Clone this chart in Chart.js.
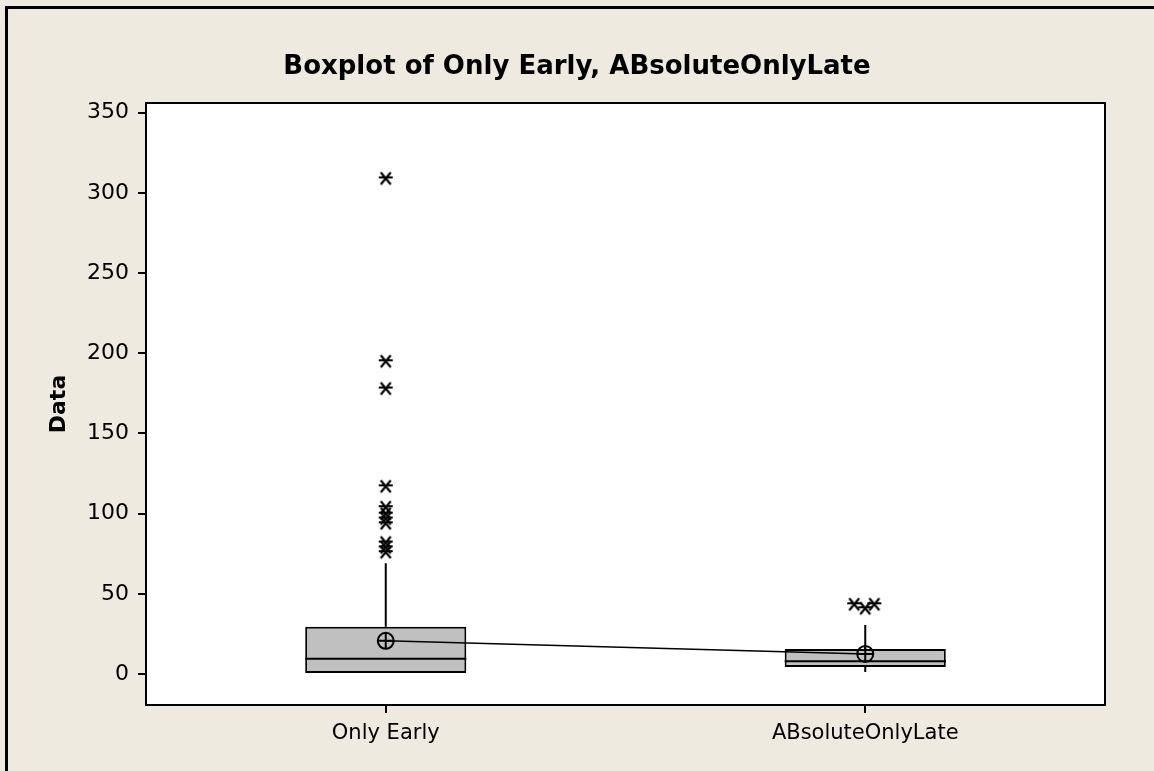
<!DOCTYPE html>
<html>
<head>
<meta charset="utf-8">
<script src="https://cdn.jsdelivr.net/npm/chart.js@4"></script>
<style>
  body { margin: 0; background: #EEEAE0; }
  #wrap { width: 1154px; height: 771px; }
</style>
</head>
<body>
<div id="wrap"><canvas id="boxChart" width="1154" height="771"></canvas></div>
<script>
// categories and summary stats
var categories = ['Only Early', 'ABsoluteOnlyLate'];
var q1Vals = [0, 4.4];
var medianVals = [9.5, 8];
var q3Vals = [29.5, 15.6];
var whiskerLow = [0, 1.2];
var whiskerHigh = [69, 30.5];
var meanVals = [20.7, 12.5];

// outliers (x = category index, small offsets where stars sit side by side)
var outliersEarly = [309, 195, 178, 117, 104, 100, 97, 94, 82, 79, 76];
var outliersLate = [{x: 0.977, y: 43.5}, {x: 1.0, y: 41}, {x: 1.019, y: 43.5}];

var yTicks = [0, 50, 100, 150, 200, 250, 300, 350];

var BOX_HALF = 0.168;

// minitab style asterisk
function makeStar() {
    var c = document.createElement('canvas');
    c.width = 16; c.height = 16;
    var g = c.getContext('2d');
    g.strokeStyle = '#000';
    g.lineWidth = 2.2;
    g.beginPath();
    g.moveTo(3, 2); g.lineTo(13, 14);
    g.moveTo(13, 2); g.lineTo(3, 14);
    g.moveTo(1, 7); g.lineTo(15, 7);
    g.stroke();
    return c;
}
var star = makeStar();

// build line data: whiskers and medians, broken with nulls
var whiskerData = [];
var medianData = [];
for (var i = 0; i < categories.length; i++) {
    whiskerData.push({x: i, y: q3Vals[i]}, {x: i, y: whiskerHigh[i]}, {x: i, y: null});
    whiskerData.push({x: i, y: q1Vals[i]}, {x: i, y: whiskerLow[i]}, {x: i, y: null});
    medianData.push({x: i - BOX_HALF, y: medianVals[i]}, {x: i + BOX_HALF, y: medianVals[i]}, {x: i, y: null});
}
var boxData = categories.map(function(c, i) { return {x: i, y: [q1Vals[i], q3Vals[i]]}; });
var meanData = meanVals.map(function(v, i) { return {x: i, y: v}; });
var outlierData = outliersEarly.map(function(v) { return {x: 0, y: v}; }).concat(outliersLate);

var framePlugin = {
    id: 'frame',
    beforeDraw: function(chart) {
        var ctx = chart.ctx;
        ctx.save();
        ctx.fillStyle = '#EEEAE0';
        ctx.fillRect(0, 0, chart.width, chart.height);
        ctx.fillStyle = '#000';
        ctx.fillRect(5, 6, chart.width - 5, 3);
        ctx.fillRect(5, 6, 3, chart.height - 6);
        var a = chart.chartArea;
        ctx.fillStyle = '#fff';
        ctx.fillRect(a.left, a.top, a.right - a.left, a.bottom - a.top);
        ctx.fillStyle = '#000';
        ctx.font = 'bold 26px "DejaVu Sans"';
        ctx.textAlign = 'center';
        ctx.textBaseline = 'alphabetic';
        ctx.fillText('Boxplot of Only Early, ABsoluteOnlyLate', chart.width / 2, 74);
        ctx.restore();
    },
    afterDraw: function(chart) {
        var a = chart.chartArea;
        var ctx = chart.ctx;
        ctx.save();
        ctx.strokeStyle = '#000';
        ctx.lineWidth = 2;
        ctx.strokeRect(a.left, a.top, a.right - a.left, a.bottom - a.top);
        ctx.restore();
    }
};

new Chart(document.getElementById('boxChart'), {
    type: 'scatter',
    data: {
        datasets: [
            {
                type: 'bar',
                data: boxData,
                backgroundColor: '#C0C0C0',
                borderColor: '#000',
                borderWidth: 2,
                borderSkipped: false,
                barPercentage: 0.336,
                categoryPercentage: 1,
                order: 10
            },
            {
                type: 'line',
                data: whiskerData,
                borderColor: '#000',
                borderWidth: 2,
                pointRadius: 0,
                spanGaps: false,
                order: 5
            },
            {
                type: 'line',
                data: medianData,
                borderColor: '#000',
                borderWidth: 2,
                pointRadius: 0,
                spanGaps: false,
                order: 4
            },
            {
                type: 'line',
                data: meanData,
                borderColor: '#000',
                borderWidth: 1.5,
                pointStyle: 'circle',
                pointRadius: 8,
                pointBackgroundColor: 'rgba(0,0,0,0)',
                pointBorderColor: '#000',
                pointBorderWidth: 2,
                order: 2
            },
            {
                data: meanData,
                showLine: false,
                pointStyle: 'cross',
                pointRadius: 8,
                pointBorderColor: '#000',
                pointBorderWidth: 2,
                order: 1
            },
            {
                data: outlierData,
                showLine: false,
                pointStyle: star,
                order: 0
            }
        ]
    },
    options: {
        responsive: false,
        animation: false,
        layout: { padding: { top: 103, left: 46, right: 49, bottom: 16 } },
        plugins: {
            legend: { display: false },
            tooltip: { enabled: false }
        },
        scales: {
            x: {
                type: 'linear',
                min: -0.5,
                max: 1.5,
                offset: false,
                afterBuildTicks: function(scale) {
                    scale.ticks = categories.map(function(c, i) { return {value: i}; });
                },
                afterFit: function(scale) { scale.height = 50; },
                ticks: {
                    color: '#000',
                    font: { family: 'DejaVu Sans', size: 21 },
                    padding: 8,
                    callback: function(v) { return categories[v]; }
                },
                grid: { offset: false, drawOnChartArea: false, color: '#000', lineWidth: 2, tickLength: 8 },
                border: { color: '#000', width: 2 }
            },
            y: {
                min: -19.3,
                max: 356,
                afterBuildTicks: function(scale) {
                    scale.ticks = yTicks.map(function(v) { return {value: v}; });
                },
                afterFit: function(scale) { scale.width = 100; },
                ticks: {
                    color: '#000',
                    font: { family: 'DejaVu Sans', size: 22 },
                    padding: 9
                },
                title: {
                    display: true,
                    text: 'Data',
                    color: '#000',
                    font: { family: 'DejaVu Sans', size: 22, weight: 'bold' },
                    padding: { top: 0, bottom: 0 }
                },
                grid: { drawOnChartArea: false, color: '#000', lineWidth: 2, tickLength: 8 },
                border: { color: '#000', width: 2 }
            }
        }
    },
    plugins: [framePlugin]
});
</script>
</body>
</html>
